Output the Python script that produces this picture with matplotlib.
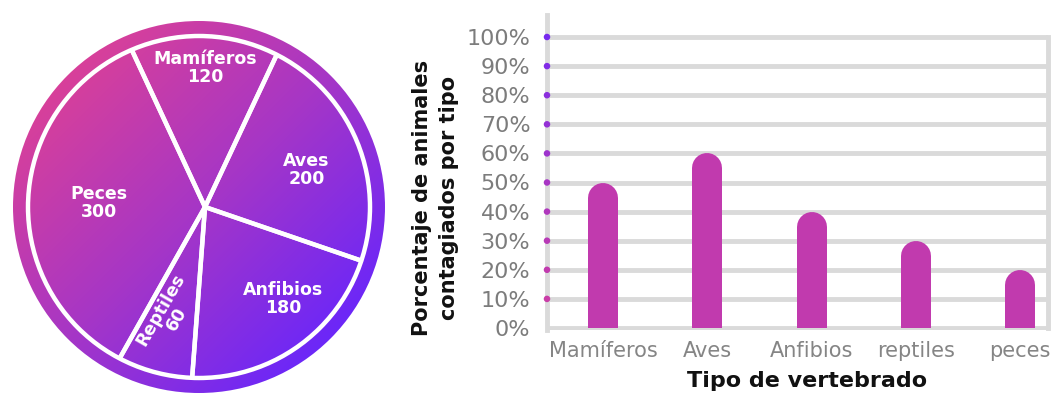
import numpy as np
import matplotlib.pyplot as plt
from matplotlib.patches import Circle, Rectangle
from matplotlib.colors import LinearSegmentedColormap

# datos del grafico circular
grupos = ['Mamíferos', 'Aves', 'Anfibios', 'Reptiles', 'Peces']
cantidades = [120, 200, 180, 60, 300]

# datos del grafico de barras
tipos = ['Mamíferos', 'Aves', 'Anfibios', 'reptiles', 'peces']
porcentajes = [50, 60, 40, 30, 20]
marcas_y = [0, 10, 20, 30, 40, 50, 60, 70, 80, 90, 100]
etiquetas_y = ['0%', '10%', '20%', '30%', '40%', '50%', '60%', '70%', '80%', '90%', '100%']

W, H = 1064, 416
fig = plt.figure(figsize=(W / 100, H / 100), dpi=100)

degradado = LinearSegmentedColormap.from_list('deg', ['#d8409a', '#a636c6', '#6c27f8'])
gris = '#dadada'
color_barra = '#c13aae'

########## grafico circular ##########
R = 186          # radio exterior en px
cx, cy = 199, 207
m = 6
ax1 = fig.add_axes([(cx - R - m) / W, (H - cy - R - m) / H, (2 * R + 2 * m) / W, (2 * R + 2 * m) / H])

n = 500
gx, gy = np.meshgrid(np.linspace(-1, 1, n), np.linspace(1, -1, n))
t = np.clip((gx - gy) / (2 * np.sqrt(2)) + 0.5, 0, 1)
im = ax1.imshow(t, cmap=degradado, extent=[-1, 1, -1, 1], origin='upper', interpolation='bilinear')
im.set_clip_path(Circle((0, 0), 1, transform=ax1.transData))

inicio = 115
r_anillo = 171 / R
centro = (6 / R, 0)   # los radios se juntan un poco a la derecha del centro
cuna, _ = ax1.pie(cantidades, radius=1.0, center=centro, startangle=inicio, counterclock=False,
                  wedgeprops=dict(facecolor='none', edgecolor='white', linewidth=3.2))
anillo = Circle((0, 0), r_anillo, transform=ax1.transData)
for w in cuna:
    w.set_clip_on(True)
    w.set_clip_path(anillo)
ax1.add_patch(Circle((0, 0), r_anillo, facecolor='none', edgecolor='white', lw=3.2))

dist_etiqueta = [0.75, 0.58, 0.65, 0.61, 0.57]
ajuste_ang = [0, -3, 7, -2, 0]
giro_etiqueta = [0, 0, 0, 60, 0]
acum = np.cumsum([0] + cantidades)
total = acum[-1]
for i, g in enumerate(grupos):
    ang = np.deg2rad(inicio - 360.0 * (acum[i] + acum[i + 1]) / 2 / total + ajuste_ang[i])
    d = dist_etiqueta[i]
    ax1.text(centro[0] + d * np.cos(ang), centro[1] + d * np.sin(ang), '%s\n%d' % (g, cantidades[i]),
             ha='center', va='center', color='white', fontsize=12.5, weight='bold',
             linespacing=1.0, rotation=giro_etiqueta[i], rotation_mode='anchor')

lim = (R + m) / R
ax1.set_xlim(-lim, lim)
ax1.set_ylim(-lim, lim)
ax1.set_aspect('auto')
ax1.axis('off')

########## grafico de barras ##########
ax2 = fig.add_axes([547 / W, (H - 330) / H, 501 / W, 315 / H])
px_por_unidad = 2.91
ax2.set_ylim(-2 / px_por_unidad, 100 + 22 / px_por_unidad)
paso_x = 104.25
ax2.set_xlim(-56 / paso_x, len(tipos) - 1 + 28 / paso_x)

for v in marcas_y:
    ax2.axhline(v, color=gris, lw=3.5, zorder=1)
ax2.plot([1, 1], [0, 100], transform=ax2.get_yaxis_transform(), color=gris, lw=3.5,
         clip_on=False, zorder=1)

for s in ['top', 'right', 'bottom']:
    ax2.spines[s].set_visible(False)
ax2.spines['left'].set_color(gris)
ax2.spines['left'].set_linewidth(3.5)

# puntos sobre el eje: rosa abajo, morado arriba
col_puntos = [degradado(0.15 + 0.75 * (v - 10) / 90.0) for v in marcas_y[1:]]
ax2.scatter([0] * len(marcas_y[1:]), marcas_y[1:], transform=ax2.get_yaxis_transform(),
            s=22, c=col_puntos, zorder=5, clip_on=False, linewidths=0)

# barras con punta redonda (linea con extremo redondo, recortada en 0)
fig.canvas.draw()
p0 = ax2.transData.transform((0, 0))
p1 = ax2.transData.transform((1, 1))
ancho_px = 30
tapa = (ancho_px / 2.0) / (p1[1] - p0[1])
recorte = Rectangle((-1, 0), len(tipos) + 1, 200, transform=ax2.transData)
for i, v in enumerate(porcentajes):
    ln, = ax2.plot([i, i], [-tapa, v - tapa], color=color_barra, lw=ancho_px * 0.72,
                   solid_capstyle='round', zorder=3)
    ln.set_clip_path(recorte)

ax2.set_yticks(marcas_y, etiquetas_y)
ax2.set_xticks(range(len(tipos)), tipos)
ax2.tick_params(axis='y', length=0, pad=12, labelsize=16, labelcolor='#7c7c7c')
ax2.tick_params(axis='x', length=0, pad=8, labelsize=15, labelcolor='#858585')

ax2.set_xlabel('Tipo de vertebrado', fontsize=16, weight='bold', color='#111111')
ax2.xaxis.set_label_coords(0.52, -0.13)
ax2.set_ylabel('Porcentaje de animales\ncontagiados por tipo', fontsize=15, weight='bold',
               color='#111111', linespacing=1.45)
ax2.yaxis.label.set_va('center')
ax2.yaxis.set_label_coords(-0.222, 0.42)

fig.savefig('out.png', dpi=100)
